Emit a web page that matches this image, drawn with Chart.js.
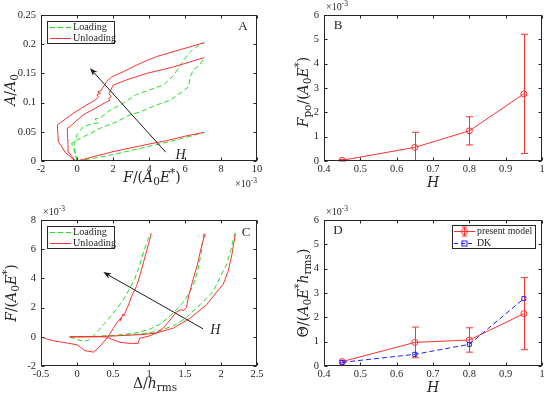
<!DOCTYPE html>
<html><head><meta charset="utf-8">
<script src="https://cdn.jsdelivr.net/npm/chart.js"></script>
<style>
html,body{margin:0;padding:0;background:#fff;}
#wrap{position:relative;width:550px;height:397px;overflow:hidden;}
#wrap canvas{position:absolute;left:0;top:0;}
</style></head><body>
<div id="wrap">
<canvas id="cA" width="550" height="397"></canvas>
<canvas id="cB" width="550" height="397"></canvas>
<canvas id="cC" width="550" height="397"></canvas>
<canvas id="cD" width="550" height="397"></canvas>
</div>
<script>
// ---------------- DATA ----------------
// Panel A: A/A0 versus F/(A0 E*) (x in 1e-3)
const A_xTicks = [-2, 0, 2, 4, 6, 8, 10];
const A_xLabels = ['-2', '0', '2', '4', '6', '8', '10'];
const A_yTicks = [0, 0.05, 0.1, 0.15, 0.2, 0.25];
const A_yLabels = ['0', '0.05', '0.1', '0.15', '0.2', '0.25'];
const A_loadLow = [[0,0],[1,0.005],[2,0.011],[3,0.018],[4,0.025],[5,0.032],[6,0.04],[7.07,0.049]];
const A_loadMid = [[0,0],[-0.05,0.01],[-0.3,0.03],[0,0.036],[0.72,0.047],[1.28,0.056],[2.2,0.067],[2.94,0.079],[3.5,0.084],[4.43,0.096],[5.17,0.104],[5.72,0.116],[6.2,0.127],[6.3,0.145],[6.46,0.156],[6.83,0.165],[7.07,0.177]];
const A_loadHigh = [[0,0],[-0.1,0.012],[-0.15,0.03],[0,0.045],[0.35,0.059],[0.8,0.063],[1.18,0.065],[1.0,0.072],[1.3,0.074],[1.83,0.087],[2.57,0.099],[3.31,0.114],[4.06,0.122],[4.8,0.13],[5.35,0.146],[5.8,0.167],[6.1,0.18],[6.4,0.19],[6.8,0.199],[7.07,0.2026]];
const A_unloadLow = [[0,0],[0.5,0.004],[1,0.008],[2,0.016],[3,0.0225],[4,0.029],[5,0.035],[6,0.0425],[7.07,0.049]];
const A_unloadMid = [[-0.05,0],[-0.3,0.008],[-0.45,0.015],[-0.5,0.027],[-0.54,0.056],[-0.39,0.059],[0,0.07],[0.35,0.079],[1.0,0.09],[1.65,0.1015],[1.83,0.104],[1.75,0.107],[1.9,0.11],[1.78,0.115],[1.87,0.1215],[2.02,0.13],[2.76,0.139],[3.87,0.15],[5.35,0.161],[7.07,0.177]];
const A_unloadHigh = [[-0.1,0],[-0.4,0.008],[-0.67,0.015],[-0.9,0.027],[-1.04,0.033],[-1.09,0.062],[-0.94,0.065],[-0.2,0.082],[0.54,0.096],[1.0,0.104],[1.2,0.11],[1.1,0.113],[1.3,0.116],[1.15,0.118],[1.35,0.121],[1.37,0.123],[1.65,0.136],[1.93,0.144],[2.57,0.153],[3.5,0.167],[4.43,0.179],[7.07,0.2026]];
const A_arrow = [[4.93,0.015],[0.72,0.159]];
const A_hLabel = [5.75,0.012];

// Panel B: F_po/(A0 E*) versus H (y in 1e-3)
const BD_xTicks = [0.4, 0.5, 0.6, 0.7, 0.8, 0.9, 1];
const BD_xLabels = ['0.4', '0.5', '0.6', '0.7', '0.8', '0.9', '1'];
const BD_yTicks = [0, 1, 2, 3, 4, 5, 6];
const BD_yLabels = ['0', '1', '2', '3', '4', '5', '6'];
const B_H = [0.45, 0.65, 0.8, 0.95];
const B_F = [0.03, 0.56, 1.24, 2.76];
const B_err = [0.03, 0.62, 0.58, 2.45];

// Panel C: F/(A0 E*) versus Delta/h_rms (y in 1e-3)
const C_xTicks = [-0.5, 0, 0.5, 1, 1.5, 2, 2.5];
const C_xLabels = ['-0.5', '0', '0.5', '1', '1.5', '2', '2.5'];
const C_yTicks = [-2, 0, 2, 4, 6, 8];
const C_yLabels = ['-2', '0', '2', '4', '6', '8'];
const C_loadHigh = [[-0.1,0],[0,-0.18],[0.08,-0.3],[0.15,-0.25],[0.22,0],[0.3,0.45],[0.38,0.9],[0.46,1.36],[0.55,1.9],[0.64,2.5],[0.72,3.2],[0.8,3.95],[0.87,4.9],[0.93,5.9],[0.98,6.6],[1.02,7.07]];
const C_unloadHigh = [[-0.5,0],[-0.42,-0.15],[-0.3,-0.3],[-0.14,-0.42],[0,-0.55],[0.06,-0.75],[0.11,-0.95],[0.23,-1.05],[0.3,-0.75],[0.37,-0.35],[0.43,0],[0.5,0.55],[0.56,1.0],[0.62,1.35],[0.6,1.1],[0.64,1.55],[0.65,1.45],[0.7,2.0],[0.77,2.9],[0.83,3.5],[0.88,4.3],[0.94,5.4],[0.99,6.3],[1.03,7.07]];
const C_loadMid = [[-0.1,0],[0.2,0],[0.5,0.08],[0.8,0.25],[1.0,0.5],[1.15,0.85],[1.25,1.25],[1.35,1.7],[1.45,2.2],[1.55,2.9],[1.62,3.6],[1.68,4.6],[1.72,5.6],[1.76,7.07]];
const C_unloadMid = [[-0.1,0],[0.2,0],[0.4,0],[0.5,-0.2],[0.6,-0.38],[0.74,-0.45],[0.85,-0.45],[0.87,-0.1],[1.0,0.05],[1.1,0.25],[1.2,0.6],[1.3,1.2],[1.38,1.7],[1.44,1.85],[1.48,1.8],[1.52,2.0],[1.55,2.8],[1.6,3.7],[1.67,4.9],[1.72,6.0],[1.78,7.07]];
const C_loadLow = [[-0.1,0],[0.3,0.03],[0.6,0.1],[0.9,0.2],[1.1,0.35],[1.34,0.75],[1.5,1.25],[1.71,2.2],[1.89,3.1],[1.99,4.1],[2.08,5.0],[2.14,6.0],[2.19,7.07]];
const C_unloadLow = [[-0.1,0],[0.3,0.02],[0.6,0.08],[0.9,0.15],[1.1,0.26],[1.34,0.6],[1.57,1.27],[1.8,2.2],[1.93,3.0],[2.03,3.6],[2.1,4.5],[2.15,5.6],[2.2,7.07]];
const C_arrow = [[1.75,0.55],[0.365,4.43]];
const C_hLabel = [1.92,0.5];

// Panel D: Theta/(A0 E* h_rms) versus H (y in 1e-3)
const D_H = [0.45, 0.65, 0.8, 0.95];
const D_model = [0.18, 0.97, 1.07, 2.15];
const D_err = [0.05, 0.63, 0.5, 1.48];
const D_DK = [0.15, 0.48, 0.89, 2.77];

// ---------------- STYLE / HELPERS ----------------
const FONT = '"Liberation Serif","Times New Roman",serif';
const LFONT = '"DejaVu Serif","Liberation Serif",serif';
const AX = '#262626';
const RED = '#ff3030';
const GREEN = '#22e022';
const BLUE = '#2020ff';
const TICK = 10.5;
const LAB = 14;

const pts = arr => arr.map(p => ({x: p[0], y: p[1]}));
const xy = (xs, ys) => xs.map((x, i) => ({x, y: ys[i]}));

function rich(ctx, segs, x, y, size, rot, align, fam) {
  const family = fam || LFONT;
  ctx.save();
  ctx.translate(x, y);
  if (rot) ctx.rotate(rot);
  ctx.fillStyle = AX;
  ctx.textBaseline = 'alphabetic';
  const items = segs.map(([t, f]) => {
    const sm = f.includes('_') || f.includes('^');
    const fs = sm ? size * 0.75 : size;
    const font = (f.includes('i') ? 'italic ' : '') + fs + 'px ' + family;
    ctx.font = font;
    const w = ctx.measureText(t).width;
    const dy = f.includes('_') ? size * 0.22 : (f.includes('^') ? -size * 0.4 : 0);
    return {t, font, w, dy};
  });
  const W = items.reduce((a, b) => a + b.w, 0);
  let cx = align === 'left' ? 0 : (align === 'right' ? -W : -W / 2);
  const base = size * 0.33;
  for (const it of items) { ctx.font = it.font; ctx.fillText(it.t, cx, base + it.dy); cx += it.w; }
  ctx.restore();
}

function arrow(chart, a) {
  const {ctx, scales: {x, y}} = chart;
  const x0 = x.getPixelForValue(a[0][0]), y0 = y.getPixelForValue(a[0][1]);
  const x1 = x.getPixelForValue(a[1][0]), y1 = y.getPixelForValue(a[1][1]);
  const ang = Math.atan2(y1 - y0, x1 - x0);
  const L = 8, Wd = 3;
  ctx.save();
  ctx.strokeStyle = '#1a1a1a'; ctx.fillStyle = '#1a1a1a'; ctx.lineWidth = 1;
  ctx.beginPath(); ctx.moveTo(x0, y0);
  ctx.lineTo(x1 - Math.cos(ang) * L * 0.7, y1 - Math.sin(ang) * L * 0.7); ctx.stroke();
  ctx.beginPath();
  ctx.moveTo(x1, y1);
  ctx.lineTo(x1 - Math.cos(ang) * L + Math.sin(ang) * Wd, y1 - Math.sin(ang) * L - Math.cos(ang) * Wd);
  ctx.lineTo(x1 - Math.cos(ang) * L * 0.7, y1 - Math.sin(ang) * L * 0.7);
  ctx.lineTo(x1 - Math.cos(ang) * L - Math.sin(ang) * Wd, y1 - Math.sin(ang) * L + Math.cos(ang) * Wd);
  ctx.closePath(); ctx.fill();
  ctx.restore();
}

function legendBox(ctx, l, t, r, b, entries, fs) {
  ctx.save();
  ctx.fillStyle = '#fff';
  ctx.fillRect(l, t, r - l, b - t);
  ctx.strokeStyle = AX; ctx.lineWidth = 1;
  ctx.strokeRect(Math.round(l) + 0.5, Math.round(t) + 0.5, Math.round(r - l) - 1, Math.round(b - t) - 1);
  const n = entries.length, h = (b - t) / n;
  entries.forEach((e, i) => {
    const yc = Math.round(t + h * (i + 0.5)) + 0.5;
    ctx.strokeStyle = e.color; ctx.lineWidth = 1;
    ctx.setLineDash(e.dash || []);
    ctx.beginPath(); ctx.moveTo(l + e.x0, yc); ctx.lineTo(l + e.x1, yc); ctx.stroke();
    ctx.setLineDash([]);
    const mx = l + (e.x0 + e.x1) / 2;
    if (e.err) {
      ctx.beginPath();
      ctx.moveTo(mx, yc - 4.5); ctx.lineTo(mx, yc + 4.5);
      ctx.moveTo(mx - 2.5, yc - 4.5); ctx.lineTo(mx + 2.5, yc - 4.5);
      ctx.moveTo(mx - 2.5, yc + 4.5); ctx.lineTo(mx + 2.5, yc + 4.5);
      ctx.stroke();
    }
    if (e.marker === 'circle') { ctx.beginPath(); ctx.arc(mx, yc, 3, 0, Math.PI * 2); ctx.stroke(); }
    if (e.marker === 'rect') { ctx.strokeRect(mx - 2.5, yc - 2.5, 5, 5); }
    ctx.fillStyle = AX; ctx.font = (fs || 10) + 'px ' + FONT; ctx.textBaseline = 'middle';
    ctx.fillText(e.label, l + e.tx, yc);
  });
  ctx.restore();
}

function errorBars(chart, xs, ys, es, color) {
  const {ctx, scales: {x, y}} = chart;
  ctx.save();
  ctx.strokeStyle = color; ctx.lineWidth = 1;
  ctx.beginPath();
  xs.forEach((v, i) => {
    const px = Math.round(x.getPixelForValue(v)) + 0.5;
    const lo = y.getPixelForValue(Math.max(ys[i] - es[i], y.min));
    const hi = y.getPixelForValue(ys[i] + es[i]);
    ctx.moveTo(px, lo); ctx.lineTo(px, hi);
    ctx.moveTo(px - 3.5, hi); ctx.lineTo(px + 3.5, hi);
    if (ys[i] - es[i] >= y.min) { ctx.moveTo(px - 3.5, lo); ctx.lineTo(px + 3.5, lo); }
  });
  ctx.stroke();
  ctx.restore();
}

function makePanel(id, cfg) {
  const YW = 30, XH = 20;
  const a = cfg.area;
  return new Chart(document.getElementById(id), {
    type: 'scatter',
    data: {datasets: cfg.datasets},
    options: {
      responsive: false, animation: false, devicePixelRatio: 1,
      layout: {padding: {left: a.l - YW, top: a.t, right: 550 - a.r, bottom: 397 - a.b - XH}},
      plugins: {legend: {display: false}, tooltip: {enabled: false}},
      elements: {line: {tension: 0}},
      scales: {
        x: {
          type: 'linear', min: cfg.xMin, max: cfg.xMax,
          grid: {display: false, drawTicks: false}, border: {display: false},
          afterBuildTicks: s => { s.ticks = cfg.xTicks.map(v => ({value: v})); },
          afterFit: s => { s.height = XH; },
          ticks: {autoSkip: false, maxRotation: 0, minRotation: 0, padding: 2, color: AX,
            font: {family: FONT, size: TICK}, callback: (v, i) => cfg.xLabels[i]}
        },
        y: {
          type: 'linear', min: cfg.yMin, max: cfg.yMax,
          grid: {display: false, drawTicks: false}, border: {display: false},
          afterBuildTicks: s => { s.ticks = cfg.yTicks.map(v => ({value: v})); },
          afterFit: s => { s.width = YW; },
          ticks: {autoSkip: false, padding: 5, color: AX,
            font: {family: FONT, size: TICK}, callback: (v, i) => cfg.yLabels[i]}
        }
      }
    },
    plugins: [{
      id: 'frame_' + id,
      beforeDatasetsDraw(chart) { if (cfg.before) cfg.before(chart); },
      afterDatasetsDraw(chart) {
        const {ctx, chartArea: ca, scales: {x, y}} = chart;
        ctx.save();
        ctx.strokeStyle = AX; ctx.lineWidth = 1;
        const L = Math.round(ca.left) + 0.5, R = Math.round(ca.right) - 0.5;
        const T = Math.round(ca.top) + 0.5, B = Math.round(ca.bottom) - 0.5;
        ctx.strokeRect(L, T, R - L, B - T);
        ctx.beginPath();
        x.ticks.forEach(t => {
          const p = Math.round(x.getPixelForValue(t.value)) + 0.5;
          ctx.moveTo(p, B); ctx.lineTo(p, B - 3); ctx.moveTo(p, T); ctx.lineTo(p, T + 3);
        });
        y.ticks.forEach(t => {
          const p = Math.round(y.getPixelForValue(t.value)) + 0.5;
          ctx.moveTo(L, p); ctx.lineTo(L + 3, p); ctx.moveTo(R, p); ctx.lineTo(R - 3, p);
        });
        ctx.stroke();
        ctx.restore();
        if (cfg.after) cfg.after(chart);
      }
    }]
  });
}

const lineDS = (data, color, dashed, order) => ({
  data, showLine: true, borderColor: color, borderWidth: 1, pointRadius: 0,
  borderDash: dashed ? [5, 3] : [], order, fill: false
});

// ---------------- PANEL A ----------------
makePanel('cA', {
  area: {l: 41, t: 15, r: 257, b: 161},
  xMin: -2, xMax: 10, yMin: 0, yMax: 0.25,
  xTicks: A_xTicks, xLabels: A_xLabels, yTicks: A_yTicks, yLabels: A_yLabels,
  datasets: [
    lineDS(pts(A_unloadLow), RED, false, 1),
    lineDS(pts(A_unloadMid), RED, false, 1),
    lineDS(pts(A_unloadHigh), RED, false, 1),
    lineDS(pts(A_loadLow), GREEN, true, 2),
    lineDS(pts(A_loadMid), GREEN, true, 2),
    lineDS(pts(A_loadHigh), GREEN, true, 2)
  ],
  after(chart) {
    const ctx = chart.ctx, x = chart.scales.x, y = chart.scales.y;
    arrow(chart, A_arrow);
    rich(ctx, [['H', 'i']], x.getPixelForValue(A_hLabel[0]), y.getPixelForValue(A_hLabel[1]), 14, 0, 'center', FONT);
    legendBox(ctx, 47, 21, 115, 44, [
      {label: 'Loading', color: GREEN, dash: [5, 3], x0: 3, x1: 24, tx: 26},
      {label: 'Unloading', color: RED, x0: 3, x1: 24, tx: 26}
    ], 10.2);
    rich(ctx, [['A', '']], 243, 26, 13, 0, 'center', FONT);
    rich(ctx, [['F', 'i'], ['/(', ''], ['A', 'i'], ['0', '_'], ['E', 'i'], ['*', '^'], [')', '']], 152, 177, LAB);
    rich(ctx, [['A', 'i'], ['/', ''], ['A', 'i'], ['0', '_']], 10, 90, LAB, -Math.PI / 2);
    rich(ctx, [['×10', ''], ['-3', '^']], 257, 184, 10, 0, 'right', FONT);
  }
});

// ---------------- PANEL B ----------------
makePanel('cB', {
  area: {l: 324, t: 15, r: 542, b: 161},
  xMin: 0.4, xMax: 1, yMin: 0, yMax: 6,
  xTicks: BD_xTicks, xLabels: BD_xLabels, yTicks: BD_yTicks, yLabels: BD_yLabels,
  datasets: [{
    data: xy(B_H, B_F), showLine: true, borderColor: RED, borderWidth: 1,
    pointRadius: 3, pointStyle: 'circle', pointBorderColor: RED, pointBackgroundColor: 'rgba(0,0,0,0)',
    pointBorderWidth: 1, fill: false
  }],
  before(chart) { errorBars(chart, B_H, B_F, B_err, RED); },
  after(chart) {
    const ctx = chart.ctx;
    rich(ctx, [['B', '']], 338, 25, 13, 0, 'center', FONT);
    rich(ctx, [['H', 'i']], 433, 182, LAB);
    rich(ctx, [['F', 'i'], ['po', '_'], ['/(', ''], ['A', 'i'], ['0', '_'], ['E', 'i'], ['*', '^'], [')', '']], 303, 92, LAB, -Math.PI / 2);
    rich(ctx, [['×10', ''], ['-3', '^']], 326, 7, 10, 0, 'left', FONT);
  }
});

// ---------------- PANEL C ----------------
makePanel('cC', {
  area: {l: 41, t: 220, r: 257, b: 366},
  xMin: -0.5, xMax: 2.5, yMin: -2, yMax: 8,
  xTicks: C_xTicks, xLabels: C_xLabels, yTicks: C_yTicks, yLabels: C_yLabels,
  datasets: [
    lineDS(pts(C_unloadLow), RED, false, 1),
    lineDS(pts(C_unloadMid), RED, false, 1),
    lineDS(pts(C_unloadHigh), RED, false, 1),
    lineDS(pts(C_loadLow), GREEN, true, 2),
    lineDS(pts(C_loadMid), GREEN, true, 2),
    lineDS(pts(C_loadHigh), GREEN, true, 2)
  ],
  after(chart) {
    const ctx = chart.ctx, x = chart.scales.x, y = chart.scales.y;
    arrow(chart, C_arrow);
    rich(ctx, [['H', 'i']], x.getPixelForValue(C_hLabel[0]), y.getPixelForValue(C_hLabel[1]), 14, 0, 'center', FONT);
    legendBox(ctx, 47, 226, 115, 249, [
      {label: 'Loading', color: GREEN, dash: [5, 3], x0: 3, x1: 24, tx: 26},
      {label: 'Unloading', color: RED, x0: 3, x1: 24, tx: 26}
    ], 10.2);
    rich(ctx, [['C', '']], 246, 232, 13, 0, 'center', FONT);
    rich(ctx, [['Δ', ''], ['/', ''], ['h', 'i'], ['rms', '_']], 155, 383, LAB);
    rich(ctx, [['F', 'i'], ['/(', ''], ['A', 'i'], ['0', '_'], ['E', 'i'], ['*', '^'], [')', '']], 11, 293, LAB, -Math.PI / 2);
    rich(ctx, [['×10', ''], ['-3', '^']], 43, 212, 10, 0, 'left', FONT);
  }
});

// ---------------- PANEL D ----------------
makePanel('cD', {
  area: {l: 324, t: 220, r: 542, b: 366},
  xMin: 0.4, xMax: 1, yMin: 0, yMax: 6,
  xTicks: BD_xTicks, xLabels: BD_xLabels, yTicks: BD_yTicks, yLabels: BD_yLabels,
  datasets: [{
    data: xy(D_H, D_model), showLine: true, borderColor: RED, borderWidth: 1,
    pointRadius: 3, pointStyle: 'circle', pointBorderColor: RED, pointBackgroundColor: 'rgba(0,0,0,0)',
    pointBorderWidth: 1, fill: false, order: 2
  }, {
    data: xy(D_H, D_DK), showLine: true, borderColor: BLUE, borderWidth: 1, borderDash: [5, 3],
    pointRadius: 2.8, pointStyle: 'rect', pointBorderColor: BLUE, pointBackgroundColor: 'rgba(0,0,0,0)',
    pointBorderWidth: 1, fill: false, order: 1
  }],
  before(chart) { errorBars(chart, D_H, D_model, D_err, RED); },
  after(chart) {
    const ctx = chart.ctx;
    legendBox(ctx, 452, 225, 536, 249, [
      {label: 'present model', color: RED, x0: 2, x1: 23, tx: 25, marker: 'circle', err: true},
      {label: 'DK', color: BLUE, dash: [4, 3], x0: 2, x1: 23, tx: 25, marker: 'rect'}
    ], 9.8);
    rich(ctx, [['D', '']], 338, 230, 13, 0, 'center', FONT);
    rich(ctx, [['H', 'i']], 433, 387, LAB);
    rich(ctx, [['Θ', ''], ['/(', ''], ['A', 'i'], ['0', '_'], ['E', 'i'], ['*', '^'], ['h', 'i'], ['rms', '_'], [')', '']], 303, 293, LAB, -Math.PI / 2);
    rich(ctx, [['×10', ''], ['-3', '^']], 326, 212, 10, 0, 'left', FONT);
  }
});
</script>
</body></html>
